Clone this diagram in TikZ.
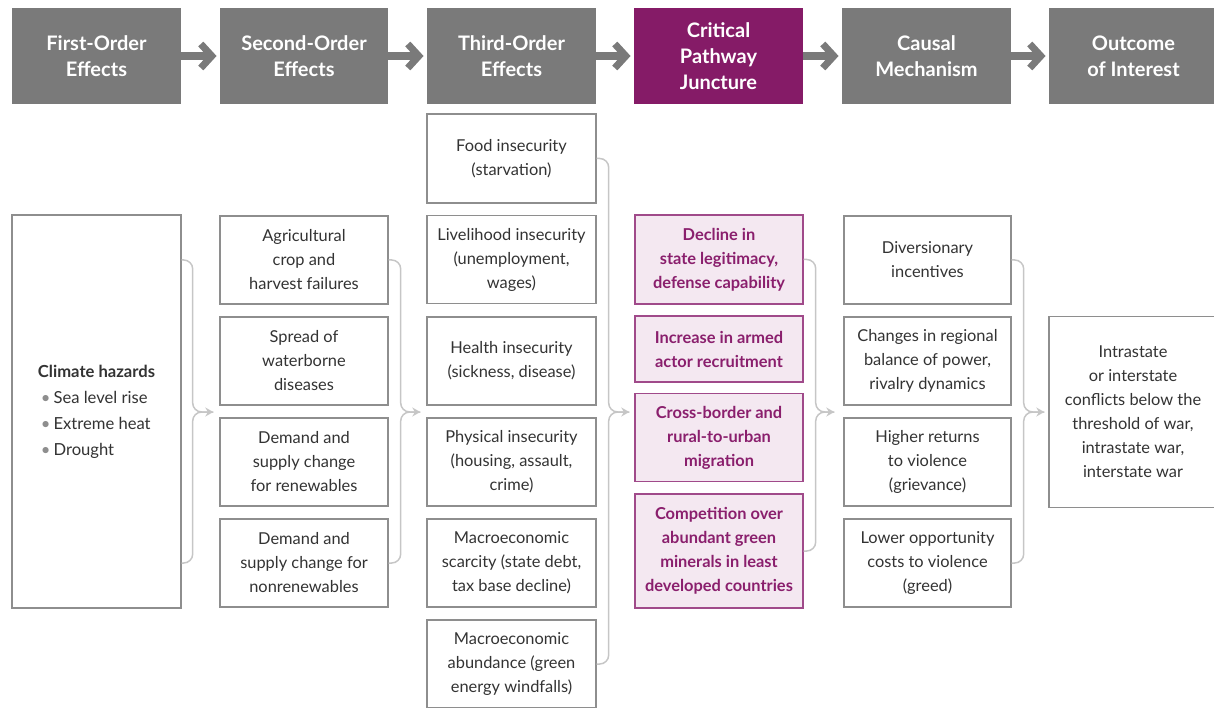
\documentclass[tikz,border=0pt]{standalone}
\usepackage{fontspec}
\setmainfont{Lato}
\usetikzlibrary{arrows.meta,calc}
\definecolor{hdrgray}{HTML}{7A7A7A}
\definecolor{hdrpurple}{HTML}{851B67}
\definecolor{boxgray}{HTML}{8E8E8E}
\definecolor{txtgray}{HTML}{333333}
\definecolor{pborder}{HTML}{A04A8A}
\definecolor{pfill}{HTML}{F4E8F1}
\definecolor{ptext}{HTML}{8A1F6D}
\definecolor{brkgray}{HTML}{C6C6C6}
\begin{document}
\begin{tikzpicture}[x=1pt,y=-1pt,
  hdr/.style={fill=hdrgray,draw=none,minimum height=96,inner sep=0pt,text=white,
    font=\fontsize{20}{26}\selectfont\bfseries,align=center},
  hdrp/.style={hdr,fill=hdrpurple},
  bx/.style={draw=boxgray,line width=1.4pt,fill=white,inner sep=0pt,text=txtgray,
    font=\fontsize{16.4}{24}\selectfont,align=center},
  pbx/.style={draw=pborder,line width=1.4pt,fill=pfill,inner sep=0pt,text=ptext,
    font=\fontsize{16.4}{24}\selectfont\bfseries,align=center},
  harrow/.style={hdrgray,line width=8pt},
  hchev/.style={hdrgray,line width=7pt,line join=miter},
  brk/.style={brkgray,line width=1.5pt,rounded corners=9pt},
  brkarrow/.style={brk,-{Stealth[length=8pt,width=9pt]}}
]
\useasboundingbox (0,0) rectangle (1214,708);
% headers
\node[hdr,minimum width=169] (h1) at (96.5,56) {First-Order\\Effects};
\node[hdr,minimum width=168] (h2) at (304,56) {Second-Order\\Effects};
\node[hdr,minimum width=169] (h3) at (511.5,56) {Third-Order\\Effects};
\node[hdrp,minimum width=169] (h4) at (718.5,56) {Critical\\Pathway\\Juncture};
\node[hdr,minimum width=169] (h5) at (926.5,56) {Causal\\Mechanism};
\node[hdr,minimum width=169] (h6) at (1133.5,56) {Outcome\\of Interest};
\foreach \a/\b in {h1/h2,h2/h3,h3/h4,h4/h5,h5/h6}{
  \draw[harrow] (\a.east) -- ($(\b.west)+(-9,0)$);
  \draw[hchev] ($(\b.west)+(-19,-12)$) -- ($(\b.west)+(-8,0)$) -- ($(\b.west)+(-19,12)$);
}
% column 1
\node[bx,minimum width=169,minimum height=393] (clim) at (96.5,411.5) {};
\node[text=txtgray,align=left,inner sep=0pt,font=\fontsize{16.6}{26}\selectfont] (climtxt) at (clim.center)
  {\textbf{Climate hazards}\\
   \hspace{3pt}{\color{boxgray}\textbullet}\hspace{3pt}Sea level rise\\
   \hspace{3pt}{\color{boxgray}\textbullet}\hspace{3pt}Extreme heat\\
   \hspace{3pt}{\color{boxgray}\textbullet}\hspace{3pt}Drought};
% column 2
\node[bx,minimum width=168,minimum height=88] (a1) at (304,260) {Agricultural\\crop and\\harvest failures};
\node[bx,minimum width=168,minimum height=88] (a2) at (304,361) {Spread of\\waterborne\\diseases};
\node[bx,minimum width=168,minimum height=88] (a3) at (304,462) {Demand and\\supply change\\for renewables};
\node[bx,minimum width=168,minimum height=88] (a4) at (304,563) {Demand and\\supply change for\\nonrenewables};
% column 3
\node[bx,minimum width=169,minimum height=89] (b1) at (511.5,158.5) {Food insecurity\\(starvation)};
\node[bx,minimum width=169,minimum height=88] (b2) at (511.5,259.5) {Livelihood insecurity\\(unemployment,\\wages)};
\node[bx,minimum width=169,minimum height=88] (b3) at (511.5,361) {Health insecurity\\(sickness, disease)};
\node[bx,minimum width=169,minimum height=88] (b4) at (511.5,462) {Physical insecurity\\(housing, assault,\\crime)};
\node[bx,minimum width=169,minimum height=88] (b5) at (511.5,563) {Macroeconomic\\scarcity (state debt,\\tax base decline)};
\node[bx,minimum width=169,minimum height=88] (b6) at (511.5,664) {Macroeconomic\\abundance (green\\energy windfalls)};
% column 4
\node[pbx,minimum width=168,minimum height=89] (c1) at (719,259.5) {Decline in\\state legitimacy,\\defense capability};
\node[pbx,minimum width=168,minimum height=66] (c2) at (719,349) {Increase in armed\\actor recruitment};
\node[pbx,minimum width=168,minimum height=88] (c3) at (719,437.5) {Cross-border and\\rural-to-urban\\migration};
\node[pbx,minimum width=168,minimum height=114] (c4) at (719,551) {Competition over\\abundant green\\minerals in least\\developed countries};
% column 5
\node[bx,minimum width=167,minimum height=88] (d1) at (927.5,260) {Diversionary\\incentives};
\node[bx,minimum width=167,minimum height=88] (d2) at (927.5,361) {Changes in regional\\balance of power,\\rivalry dynamics};
\node[bx,minimum width=167,minimum height=88] (d3) at (927.5,462) {Higher returns\\to violence\\(grievance)};
\node[bx,minimum width=167,minimum height=88] (d4) at (927.5,563) {Lower opportunity\\costs to violence\\(greed)};
% column 6
\node[bx,minimum width=168,minimum height=191] (e1) at (1133,412) {Intrastate\\or interstate\\conflicts below the\\threshold of war,\\intrastate war,\\interstate war};
% brackets
\coordinate (mid) at (0,412);
% 1
\draw[brkarrow] (clim.east |- a1) -- ++(11,0) |- ($(a1.west |- mid)+(-6,0)$);
\draw[brk] (clim.east |- a4) -- ++(11,0) |- ($(a1.west |- mid)+(-6,0)$);
% 2
\draw[brkarrow] (a1.east) -- ++(12,0) |- ($(b3.west |- mid)+(-6,0)$);
\draw[brk] (a4.east) -- ++(12,0) |- ($(b3.west |- mid)+(-6,0)$);
% 3
\draw[brkarrow] (b1.east) -- ++(12,0) |- ($(c1.west |- mid)+(-5,0)$);
\draw[brk] (b6.east) -- ++(12,0) |- ($(c1.west |- mid)+(-5,0)$);
% 4
\draw[brkarrow] (c1.east) -- ++(12,0) |- ($(d1.west |- mid)+(-9,0)$);
\draw[brk] (c4.east) -- ++(12,0) |- ($(d1.west |- mid)+(-9,0)$);
% 5
\draw[brkarrow] (d1.east) -- ++(12,0) |- ($(e1.west |- mid)+(-4,0)$);
\draw[brk] (d4.east) -- ++(12,0) |- ($(e1.west |- mid)+(-4,0)$);
\end{tikzpicture}
\end{document}
